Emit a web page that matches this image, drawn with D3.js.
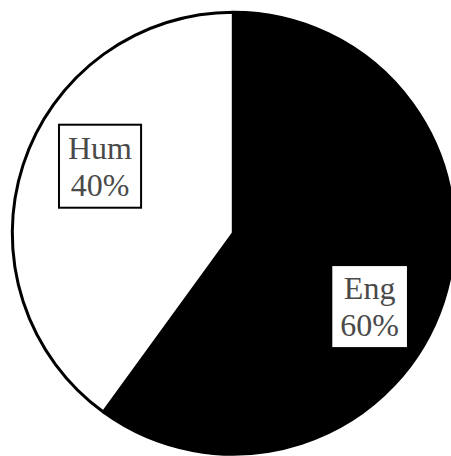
<!DOCTYPE html>
<html>
<head>
<meta charset="utf-8">
<script src="https://cdn.jsdelivr.net/npm/d3@7"></script>
<style>
  html, body { margin: 0; padding: 0; background: #fff; }
  svg { display: block; }
  .lbl { font-family: "Liberation Serif", "Times New Roman", Times, serif; }
</style>
</head>
<body>
<svg id="chart" width="451" height="456"></svg>
<script>
// Share of students by faculty
const categories = ["Eng", "Hum"];
const shares = [60, 40];
const fills = ["#000000", "#ffffff"];

const width = 451, height = 456;
const cx = 233.3, cy = 233.2, radius = 221;
const fontSize = 32, lineHeight = 37;
const labelRadius = 152, labelTurn = 9.5 * Math.PI / 180;
const labelShift = [1.5, 3];

const svg = d3.select("#chart");
const g = svg.append("g").attr("transform", `translate(${cx},${cy})`);

const data = categories.map((c, i) => ({ name: c, value: shares[i], fill: fills[i] }));

const pie = d3.pie().value(d => d.value).sort(null);
const arcs = pie(data);
const arc = d3.arc().innerRadius(0).outerRadius(radius);

g.selectAll("path.slice")
  .data(arcs)
  .join("path")
  .attr("class", "slice")
  .attr("d", arc)
  .attr("fill", d => d.data.fill)
  .attr("stroke", "#000")
  .attr("stroke-width", 3)
  .attr("stroke-linejoin", "round");

// Boxed labels: name on top, percentage below
const labels = g.selectAll("g.label")
  .data(arcs)
  .join("g")
  .attr("class", "label")
  .attr("transform", d => {
    const a = (d.startAngle + d.endAngle) / 2 + labelTurn;
    const x = labelRadius * Math.sin(a) + labelShift[0];
    const y = -labelRadius * Math.cos(a) + labelShift[1];
    return `translate(${x},${y})`;
  });

labels.append("rect")
  .attr("fill", "#fff")
  .attr("stroke", "#000")
  .attr("stroke-width", 2);

const texts = labels.append("text")
  .attr("class", "lbl")
  .attr("text-anchor", "middle")
  .attr("font-size", fontSize)
  .attr("fill", "#4a4a4a");

texts.append("tspan")
  .attr("x", 0)
  .attr("y", -lineHeight / 2 + 0.35 * fontSize)
  .text(d => d.data.name);

texts.append("tspan")
  .attr("x", 0)
  .attr("y", lineHeight / 2 + 0.35 * fontSize)
  .text(d => d.data.value + "%");

const padX = 9, padY = 5;
labels.each(function() {
  const t = d3.select(this).select("text").node().getBBox();
  d3.select(this).select("rect")
    .attr("x", t.x - padX)
    .attr("y", t.y - padY)
    .attr("width", t.width + 2 * padX)
    .attr("height", t.height + 2 * padY);
});
</script>
</body>
</html>
